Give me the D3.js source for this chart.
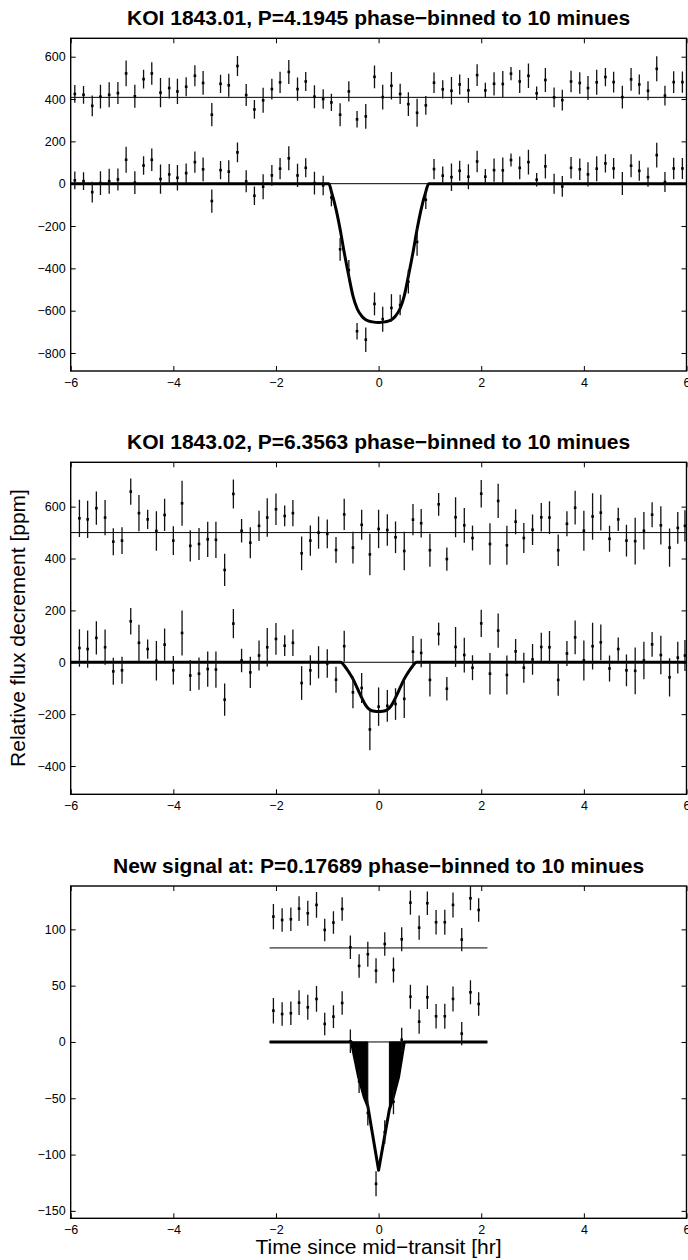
<!DOCTYPE html>
<html><head><meta charset="utf-8">
<script src="https://cdn.jsdelivr.net/npm/d3@7"></script>
<style>body{margin:0;background:#fff}</style>
</head><body>
<svg id="c" width="688" height="1260" xmlns="http://www.w3.org/2000/svg"></svg>
<script>
// ---------- DATA ----------
const xTickValues = [-6, -4, -2, 0, 2, 4, 6];

const titles = [
  "KOI 1843.01, P=4.1945 phase\u2212binned to 10 minues",
  "KOI 1843.02, P=6.3563 phase\u2212binned to 10 minues",
  "New signal at: P=0.17689 phase\u2212binned to 10 minues"
];
const yLabel = "Relative flux decrement [ppm]";
const xLabel = "Time since mid\u2212transit [hr]";

// Panel 1 (KOI 1843.01)
const yTicks1 = [-800, -600, -400, -200, 0, 200, 400, 600];
const time1 = [-5.92,-5.75,-5.58,-5.42,-5.25,-5.08,-4.92,-4.75,-4.58,-4.42,-4.25,-4.08,-3.92,-3.75,-3.58,-3.42,-3.25,-3.08,-2.92,-2.75,-2.58,-2.42,-2.25,-2.08,-1.92,-1.75,-1.58,-1.42,-1.25,-1.08,-0.92,-0.75,-0.58,-0.42,-0.25,-0.08,0.08,0.25,0.42,0.58,0.75,0.92,1.08,1.25,1.42,1.58,1.75,1.92,2.08,2.25,2.42,2.58,2.75,2.92,3.08,3.25,3.42,3.58,3.75,3.92,4.08,4.25,4.42,4.58,4.75,4.92,5.08,5.25,5.42,5.58,5.75,5.92];
const flux1 = [16,12,-40,3,12,20,113,5,86,113,22,44,28,50,102,68,-82,64,57,148,11,-57,-14,39,71,120,39,75,3,-8,-65,-310,-408,-697,-737,-568,-640,-587,-573,-463,-275,-76,69,38,31,61,33,105,33,64,63,112,75,102,19,82,0,-13,75,68,44,71,96,72,1,85,61,31,135,8,72,72];
const resid1 = [424,420,368,411,420,428,521,413,494,521,430,452,436,458,510,476,326,472,465,556,419,351,394,447,479,528,447,483,411,400,384,326,436,304,318,505,409,463,424,376,335,370,477,446,439,469,441,513,441,472,471,520,483,510,427,490,408,395,483,476,452,479,504,480,409,493,469,439,543,416,480,480];
const err1 = [42,42,49,56,59,52,61,54,44,53,69,49,60,45,50,56,55,43,54,47,52,44,59,49,50,57,55,45,54,46,41,54,48,39,58,54,59,65,48,56,66,44,48,43,65,47,59,51,36,55,61,31,54,58,32,57,47,49,51,51,57,59,43,49,54,54,47,45,59,47,51,50];
const offset1 = 408;
const modelT1 = [-6,-0.97,-0.917,-0.83,-0.75,-0.67,-0.583,-0.5,-0.417,-0.33,-0.25,-0.12,0,0.12,0.25,0.33,0.417,0.5,0.583,0.67,0.75,0.83,0.917,0.975,6];
const modelV1 = [0,0,-40,-120,-215,-325,-434,-530,-591,-625,-643,-653,-656,-653,-643,-625,-591,-530,-434,-325,-215,-120,-40,0,0];

// Panel 2 (KOI 1843.02)
const yTicks2 = [-400, -200, 0, 200, 400, 600];
const time2 = [-5.83,-5.67,-5.5,-5.33,-5.17,-5.0,-4.83,-4.67,-4.5,-4.33,-4.17,-4.0,-3.83,-3.67,-3.5,-3.33,-3.17,-3.0,-2.83,-2.67,-2.5,-2.33,-2.17,-2.0,-1.83,-1.67,-1.5,-1.33,-1.17,-1.0,-0.83,-0.67,-0.5,-0.33,-0.17,0,0.17,0.33,0.5,0.67,0.83,1.0,1.17,1.33,1.5,1.67,1.83,2.0,2.17,2.33,2.5,2.67,2.83,3.0,3.17,3.33,3.5,3.67,3.83,4.0,4.17,4.33,4.5,4.67,4.83,5.0,5.17,5.33,5.5,5.67,5.83,5.97];
const flux2 = [55,51,94,58,-35,-31,158,75,51,6,68,-31,113,-51,-44,-26,-28,-144,149,7,-39,26,58,90,64,75,-80,-31,0,-5,-67,62,-116,-99,-259,-171,-168,-161,-141,41,36,-68,109,-102,59,28,-21,150,-44,122,-49,42,-21,11,59,58,-68,34,96,7,62,77,-24,51,-31,-33,7,69,28,-58,18,26];
const resid2 = [555,551,594,558,465,469,658,575,551,506,568,469,613,449,456,474,472,356,649,507,461,526,558,590,564,575,420,469,500,495,433,570,442,530,416,514,510,482,429,550,536,432,609,398,559,528,479,650,456,622,451,542,479,511,559,558,432,534,596,507,562,577,476,551,469,467,507,569,528,442,518,526];
const err2 = [72,72,64,68,52,52,51,70,37,76,62,55,87,60,62,68,70,62,56,45,60,58,74,61,40,51,65,58,62,55,50,60,61,58,80,74,61,61,74,60,55,64,44,45,77,67,48,53,80,66,75,48,58,59,55,63,61,48,65,77,90,69,50,45,61,90,72,48,74,74,61,60];
const offset2 = 500;
const modelT2 = [-6,-0.74,-0.66,-0.58,-0.5,-0.42,-0.33,-0.25,-0.17,-0.08,0,0.08,0.17,0.25,0.33,0.42,0.5,0.58,0.66,0.74,6];
const modelV2 = [0,0,-15,-38,-64,-98,-136,-166,-183,-189,-190,-189,-183,-166,-136,-98,-64,-38,-15,0,0];

// Panel 3 (new signal)
const yTicks3 = [-150, -100, -50, 0, 50, 100];
const time3 = [-2.05,-1.88,-1.71,-1.55,-1.38,-1.21,-1.05,-0.88,-0.71,-0.55,-0.38,-0.21,-0.05,0.12,0.29,0.45,0.62,0.79,0.95,1.12,1.29,1.45,1.62,1.79,1.95];
const flux3 = [27.8,24.8,25.5,34.9,30.8,38.2,16,22.5,34.6,0.6,-35,-63,-126,-80,-53,2,40.2,18,39.7,22.8,22.8,38.2,7.4,44.1,33.7];
const resid3 = [111.3,108.3,109,118.4,114.3,121.7,99.5,106,118.1,84.1,67.5,77.9,63.3,87,63.9,91.2,123.7,101.5,123.2,106.3,106.3,121.7,90.9,127.6,117.2];
const err3 = [11.3,10.4,10.4,11,11.1,11.4,10,10,10.4,10.4,10.4,11.1,11.1,10.5,11.1,10.7,10.7,10.8,10.5,10.8,11.1,11.1,10.4,10.7,10.4];
const offset3 = 83.5;
const modelT3 = [-2.125,-0.53,-0.39,-0.28,-0.21,0,0.21,0.28,0.39,0.5,2.12];
const modelV3 = [0,0,-31,-49,-57,-114,-60,-50,-31,0,0];
const wedgeRanges3 = [[-0.53,-0.21],[0.21,0.5]];

// ---------- LAYOUT ----------
const FONT = "'Liberation Sans', Arial, Helvetica, sans-serif";
const xLeft = 70.7, xRight = 686.5;
const panels = [
  {title: titles[0], top: 38.3, bottom: 371, yDomain: [-885, 687], yTicks: yTicks1,
   t: time1, flux: flux1, resid: resid1, err: err1, offset: offset1, extent: [-6, 6],
   mT: modelT1, mV: modelV1, curve: d3.curveMonotoneX, wedges: []},
  {title: titles[1], top: 462.3, bottom: 794.3, yDomain: [-509, 771], yTicks: yTicks2,
   t: time2, flux: flux2, resid: resid2, err: err2, offset: offset2, extent: [-6, 6],
   mT: modelT2, mV: modelV2, curve: d3.curveMonotoneX, wedges: []},
  {title: titles[2], top: 886, bottom: 1218.3, yDomain: [-156.6, 138.5], yTicks: yTicks3,
   t: time3, flux: flux3, resid: resid3, err: err3, offset: offset3, extent: [-2.125, 2.12],
   mT: modelT3, mV: modelV3, curve: d3.curveLinear, wedges: wedgeRanges3}
];

const svg = d3.select("#c");
const x = d3.scaleLinear().domain([-6, 6]).range([xLeft, xRight]);
const fmt = v => v < 0 ? "\u2212" + Math.abs(v) : String(v);

panels.forEach((p, i) => {
  const y = d3.scaleLinear().domain(p.yDomain).range([p.bottom, p.top]);
  const g = svg.append("g");
  const clipId = "clip" + i;
  svg.append("clipPath").attr("id", clipId).append("rect")
    .attr("x", xLeft).attr("y", p.top).attr("width", xRight - xLeft).attr("height", p.bottom - p.top);
  const plot = g.append("g").attr("clip-path", `url(#${clipId})`);

  // thin reference lines
  [0, p.offset].forEach(v => {
    plot.append("line")
      .attr("x1", x(p.extent[0])).attr("x2", x(p.extent[1]))
      .attr("y1", y(v)).attr("y2", y(v))
      .attr("stroke", "#000").attr("stroke-width", 1);
  });

  // model
  const model = p.mT.map((t, j) => [t, p.mV[j]]);
  const lineGen = d3.line().x(d => x(d[0])).y(d => y(d[1]));
  plot.append("path").datum(model)
    .attr("d", d3.line().x(d => x(d[0])).y(d => y(d[1])).curve(p.curve))
    .attr("fill", "none").attr("stroke", "#000").attr("stroke-width", 3)
    .attr("stroke-linejoin", "round");
  p.wedges.forEach(r => {
    const pts = model.filter(d => d[0] >= r[0] - 1e-9 && d[0] <= r[1] + 1e-9);
    const poly = r[0] < 0 ? pts.concat([[r[1], 0]]) : [[r[0], 0]].concat(pts);
    plot.append("path").datum(poly)
      .attr("d", d => lineGen(d) + "Z")
      .attr("fill", "#000").attr("stroke", "#000").attr("stroke-width", 1);
  });

  // data rows
  [p.flux, p.resid].forEach(row => {
    row.forEach((v, j) => {
      const t = p.t[j], e = p.err[j];
      plot.append("line")
        .attr("x1", x(t)).attr("x2", x(t))
        .attr("y1", y(v - e)).attr("y2", y(v + e))
        .attr("stroke", "#111").attr("stroke-width", 1.3);
      plot.append("rect")
        .attr("x", x(t) - 1.3).attr("y", y(v) - 1.3)
        .attr("width", 2.6).attr("height", 2.6).attr("fill", "#000");
    });
  });

  // axes (ticks inward)
  const styleAxis = sel => {
    sel.select(".domain").remove();
    sel.selectAll(".tick line").attr("stroke", "#000").attr("stroke-width", 1);
    sel.selectAll("text").attr("font-family", FONT).attr("font-size", 12.5).attr("fill", "#000");
  };
  g.append("g").attr("transform", `translate(0,${p.bottom})`)
    .call(d3.axisBottom(x).tickValues(xTickValues).tickSizeInner(-5).tickSizeOuter(0).tickPadding(7.3).tickFormat(fmt))
    .call(styleAxis);
  g.append("g").attr("transform", `translate(0,${p.top})`)
    .call(d3.axisTop(x).tickValues(xTickValues).tickSizeInner(-5).tickSizeOuter(0).tickFormat(""))
    .call(styleAxis);
  g.append("g").attr("transform", `translate(${xLeft},0)`)
    .call(d3.axisLeft(y).tickValues(p.yTicks).tickSizeInner(-5).tickSizeOuter(0).tickPadding(5).tickFormat(fmt))
    .call(styleAxis);
  g.append("g").attr("transform", `translate(${xRight},0)`)
    .call(d3.axisRight(y).tickValues(p.yTicks).tickSizeInner(-5).tickSizeOuter(0).tickFormat(""))
    .call(styleAxis);

  // frame
  g.append("rect")
    .attr("x", xLeft).attr("y", p.top).attr("width", xRight - xLeft).attr("height", p.bottom - p.top)
    .attr("fill", "none").attr("stroke", "#000").attr("stroke-width", 1.4);

  // title
  svg.append("text")
    .attr("x", (xLeft + xRight) / 2).attr("y", p.top - 13.5)
    .attr("text-anchor", "middle").attr("font-family", FONT)
    .attr("font-weight", "bold").attr("font-size", 21).attr("fill", "#000")
    .text(p.title);
});

svg.append("text")
  .attr("transform", "translate(25,628) rotate(-90)")
  .attr("text-anchor", "middle").attr("font-family", FONT)
  .attr("font-size", 21).attr("fill", "#000").text(yLabel);

svg.append("text")
  .attr("x", (xLeft + xRight) / 2).attr("y", 1253.5)
  .attr("text-anchor", "middle").attr("font-family", FONT)
  .attr("font-size", 21).attr("fill", "#000").text(xLabel);
</script>
</body></html>
